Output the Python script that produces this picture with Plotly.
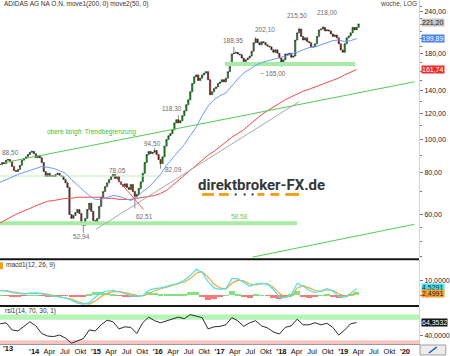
import math
import pandas as pd
import plotly.graph_objects as go

# ---------------- data ----------------
price_start = "2013-06-14"
price_end = "2019-04-02"
closes = [
    84.5, 85.6, 85.0, 87.0, 87.4, 86.0, 83.3, 81.0, 80.5, 81.6,
    84.0, 87.0, 88.0, 89.0, 90.4, 91.8, 92.5, 91.0, 88.5, 89.6,
    88.5, 85.6, 80.5, 77.8, 79.5, 77.8, 78.3, 77.8, 78.9, 79.5,
    78.3, 77.8, 76.2, 74.5, 72.2, 60.0, 58.4, 59.6, 60.8, 62.1,
    60.4, 56.5, 55.7, 58.4, 62.1, 64.8, 61.3, 57.6, 56.5, 58.4,
    63.4, 67.5, 70.2, 72.6, 74.5, 76.2, 77.8, 78.9, 76.7, 77.8,
    75.0, 73.7, 72.6, 74.0, 72.2, 71.2, 73.7, 70.2, 67.9, 68.8,
    71.7, 75.0, 79.5, 85.6, 90.4, 92.4, 91.0, 91.8, 93.0, 90.4,
    87.4, 85.0, 89.0, 95.8, 100.2, 102.9, 104.4, 107.3, 112.3, 114.8,
    112.3, 114.0, 118.0, 122.0, 127.2, 131.6, 139.0, 147.0, 154.0, 156.0,
    150.0, 152.5, 156.0, 158.0, 159.5, 151.0, 136.2, 139.0, 142.0, 143.6,
    147.0, 148.7, 151.0, 148.7, 152.5, 159.5, 170.0, 180.0, 181.0, 182.0,
    180.0, 179.0, 175.0, 171.0, 172.9, 175.0, 177.4, 183.5, 194.5, 199.6,
    194.5, 191.6, 195.8, 194.5, 191.6, 190.0, 189.0, 185.2, 182.0, 185.2,
    181.0, 175.0, 170.0, 172.9, 180.0, 179.0, 181.0, 176.0, 177.4, 198.0,
    208.0, 213.5, 203.0, 198.0, 201.0, 196.0, 194.5, 189.0, 189.0, 193.0,
    203.0, 212.3, 213.5, 216.0, 210.8, 212.3, 210.8, 206.5, 203.0, 205.0,
    201.0, 193.0, 185.0, 182.0, 193.0, 201.0, 203.5, 208.0, 216.0, 212.3,
    216.0, 221.2,
]
# marked extremes (candle index -> value)
low_marks = {42: 52.94, 68: 62.51, 81: 82.09, 142: 165.00}
high_marks = {57: 78.05, 78: 94.50, 90: 118.30, 118: 188.95, 129: 202.10,
              151: 215.50, 163: 218.00}

ind_start = "2013-06-14"
ind_end = "2019-03-21"
ma200 = [
    56.6, 58.0, 59.2, 60.4, 61.3, 62.5, 63.7, 64.7, 65.7, 66.0,
    66.5, 67.0, 67.0, 67.5, 67.5, 67.5, 67.5, 67.5, 67.0, 67.0,
    66.5, 66.5, 66.5, 67.0, 67.5, 67.9, 68.3, 69.3, 70.7, 73.2,
    75.7, 78.4, 81.0, 84.0, 86.9, 90.0, 92.4, 95.5, 98.7, 101.8,
    104.4, 107.1, 111.0, 114.8, 118.8, 122.0, 125.3, 128.5, 131.6, 134.2,
    136.9, 139.5, 141.4, 143.5, 145.8, 148.0, 150.2, 152.7, 156.1, 158.6,
    161.74,
]
ma50 = [
    74.8, 76.2, 77.8, 78.9, 80.0, 81.0, 82.2, 83.3, 82.8, 82.2,
    81.0, 79.5, 76.2, 73.2, 70.7, 68.3, 66.5, 66.5, 67.5, 68.3,
    67.9, 67.0, 66.0, 67.5, 70.2, 72.2, 75.7, 78.9, 84.0, 88.0,
    91.8, 96.8, 102.9, 109.0, 118.0, 125.9, 131.6, 135.2, 137.9, 144.8,
    151.7, 158.0, 162.6, 166.4, 169.8, 171.7, 173.9, 175.0, 177.4, 180.0,
    182.0, 185.2, 188.0, 189.0, 191.6, 194.5, 197.2, 198.2, 195.8, 197.2,
    199.89,
]
macd = [
    3.5, 3.0, 2.0, 1.3, 1.0, 1.6, 1.8, 1.2, 0.2, -0.3,
    -0.8, -1.5, -3.0, -4.8, -5.5, -4.5, -1.0, 2.0, 3.0, 3.3,
    2.5, 1.0, 0.0, -0.5, 0.0, 3.5, 4.5, 5.0, 6.0, 7.0,
    8.0, 10.0, 13.0, 17.0, 15.0, 9.0, 5.0, 4.0, 4.5, 11.0,
    11.0, 8.5, 6.0, 7.5, 8.0, 7.5, 4.0, -1.0, -1.5, 0.5,
    8.0, 6.0, 3.5, 2.0, 3.0, 4.5, 3.0, -0.5, -1.0, 1.5,
    4.5291,
]
signal = [
    3.3, 3.2, 2.5, 1.8, 1.3, 1.4, 1.6, 1.5, 0.8, 0.1,
    -0.5, -1.2, -2.3, -3.8, -5.0, -5.5, -3.5, -0.5, 1.5, 2.6,
    2.8, 2.0, 1.0, 0.2, -0.2, 1.5, 3.2, 4.3, 5.3, 6.3,
    7.3, 8.8, 11.0, 14.5, 15.5, 12.0, 7.5, 5.0, 4.3, 8.0,
    10.0, 9.5, 7.5, 7.0, 7.8, 7.8, 5.5, 1.5, -0.8, -0.5,
    5.0, 6.5, 5.0, 3.3, 2.8, 3.8, 3.5, 1.2, -0.5, 0.3,
    2.4991,
]
hist = [
    0.2, -0.2, -0.5, -0.5, -0.3, 0.2, 0.2, -0.3, -0.6, -0.4,
    -0.3, -0.3, -0.7, -1.0, -0.5, 1.0, 2.5, 2.5, 1.5, 0.7,
    -0.3, -1.0, -1.0, -0.7, 0.2, 2.0, 1.3, 0.7, 0.7, 0.7,
    0.7, 1.2, 2.0, 2.5, -0.5, -3.0, -2.5, -1.0, 0.2, 3.0,
    1.0, -1.0, -1.5, 0.5, 0.2, -0.3, -1.5, -2.5, -0.7, 1.0,
    3.0, -0.5, -1.5, -1.3, 0.2, 0.7, -0.5, -1.7, -0.5, 1.2,
    2.0,
]
rsi = [
    62, 64, 50, 48, 57, 66, 58, 43, 38, 37,
    40, 34, 24, 28, 33, 50, 48, 60, 69, 66,
    52, 56, 55, 43, 64, 75, 68, 64, 68, 72,
    75, 72, 80, 77, 74, 52, 56, 57, 60, 74,
    68, 57, 64, 68, 58, 54, 46, 42, 55, 58,
    71, 60, 60, 64, 60, 63, 55, 40, 50, 62,
    64.3532,
]

# support / resistance and trend lines: (dates, values)
upper_trend = (["2013-07-12", "2020-02-26"], [85.6, 148.8])
lower_trend = (["2017-07-15", "2020-02-26"], [44.8, 56.1])
gray_trend = (["2015-01-01", "2018-04-15"], [54.2, 129.8])
red_short = (["2015-05-04", "2015-10-09"], [76.8, 62.1])
level_78 = (["2013-06-13", "2016-01-22"], [78.05, 78.05])
level_165 = (["2017-02-01", "2019-03-13"], [168.0, 168.0])
level_58 = (["2013-06-13", "2018-04-04"], [56.5, 56.5])

price_ticks = [60, 80, 100, 120, 140, 160, 180, 200, 220, 240]
price_tick_text = ["60,00", "80,00", "100,00", "120,00", "140,00", "", "180,00", "", "", "240,00"]
price_minor = [45, 50, 55, 70, 90, 110, 130, 150, 170, 190, 210, 230, 250]
tick_dates = ["2014-01-01", "2014-04-01", "2014-07-01", "2014-10-01",
              "2015-01-01", "2015-04-01", "2015-07-01", "2015-10-01",
              "2016-01-01", "2016-04-01", "2016-07-01", "2016-10-01",
              "2017-01-01", "2017-04-01", "2017-07-01", "2017-10-01",
              "2018-01-01", "2018-04-01", "2018-07-01", "2018-10-01",
              "2019-01-01", "2019-04-01", "2019-07-01", "2019-10-01",
              "2020-01-01"]
tick_labels = ["<b>'14</b>", "Apr", "Jul", "Okt",
               "<b>'15</b>", "Apr", "Jul", "Okt",
               "<b>'16</b>", "Apr", "Jul", "Okt",
               "<b>'17</b>", "Apr", "Jul", "Okt",
               "<b>'18</b>", "Apr", "Jul", "Okt",
               "<b>'19</b>", "Apr", "Jul", "Okt",
               "<b>'20</b>"]
first_year_label = "<b>'13</b>"

# ---------------- build ----------------
pdates = pd.date_range(price_start, price_end, periods=len(closes))
opens = [closes[0]] + closes[:-1]
highs = [max(o, c) for o, c in zip(opens, closes)]
lows = [min(o, c) for o, c in zip(opens, closes)]
for i, v in high_marks.items():
    highs[i] = v
for i, v in low_marks.items():
    lows[i] = v
idates = pd.date_range(ind_start, ind_end, periods=len(ma50))

W_PLOT, H_PLOT = 423.0, 345.0
def px(x):
    return x / W_PLOT
def py(y):
    return 1 - y / H_PLOT

FONT = "Liberation Sans, Arial, sans-serif"
YELLOW = "#f0d488"

fig = go.Figure()

def line(xy, color, width, yaxis="y"):
    fig.add_trace(go.Scatter(x=xy[0], y=xy[1], mode="lines", yaxis=yaxis,
                             line=dict(color=color, width=width), hoverinfo="skip"))

line(level_165, "#a6eca6", 4)
line(level_58, "#a6eca6", 4)
line(level_78, "#b8f2b8", 1)

fig.add_trace(go.Candlestick(
    x=pdates, open=opens, high=highs, low=lows, close=closes,
    increasing=dict(line=dict(color="#151515", width=0.5), fillcolor="#1fa81f"),
    decreasing=dict(line=dict(color="#151515", width=0.5), fillcolor="#c01818"),
    whiskerwidth=0, hoverinfo="skip"))

line((idates, ma200), "#f24a4a", 1)
line((idates, ma50), "#6f97f5", 1)
line(upper_trend, "#52cc52", 1)
line(lower_trend, "#52cc52", 1)
line(gray_trend, "#a8a8a8", 1)
line(red_short, "#f25a5a", 1)

# MACD panel
fig.add_trace(go.Bar(x=idates, y=hist, yaxis="y2",
                     marker=dict(color=["#7fe37f" if v >= 0 else "#f47a7a" for v in hist],
                                 line=dict(width=0)),
                     width=34.7 * 24 * 3600 * 1000, hoverinfo="skip"))
fig.add_trace(go.Scatter(x=idates, y=signal, yaxis="y2", mode="lines",
                         line=dict(color="#f5a53c", width=1.2), hoverinfo="skip"))
fig.add_trace(go.Scatter(x=idates, y=macd, yaxis="y2", mode="lines",
                         line=dict(color="#48e4f0", width=1.2), hoverinfo="skip"))

# RSI panel
fig.add_trace(go.Scatter(x=idates, y=rsi, yaxis="y3", mode="lines",
                         line=dict(color="#2a2a2a", width=1), hoverinfo="skip"))

axis_common = dict(showgrid=False, zeroline=False, side="right", anchor="x",
                   showline=True, linecolor=YELLOW, linewidth=1,
                   ticks="outside", ticklen=3, tickcolor="#777",
                   tickfont=dict(family=FONT, size=7, color="#222"))

fig.update_layout(
    width=450, height=356,
    margin=dict(l=0, r=27, t=0, b=11),
    paper_bgcolor="white", plot_bgcolor="white",
    showlegend=False, bargap=0, boxgap=0.05,
    xaxis=dict(type="date", anchor="y3", domain=[0, 1],
               range=["2013-06-13", "2020-03-24"],
               tickvals=tick_dates, ticktext=tick_labels,
               tickfont=dict(family=FONT, size=7.5, color="#111"),
               ticks="", showgrid=False, zeroline=False,
               showline=True, linecolor="#9a9a9a",
               rangeslider=dict(visible=False)),
    yaxis=dict(type="log", domain=[1 - 259 / H_PLOT, 1],
               range=[math.log10(44.45), math.log10(260.5)],
               tickvals=price_ticks, ticktext=price_tick_text,
               minor=dict(tickvals=price_minor, ticklen=2, tickcolor="#777", ticks="outside"),
               **axis_common),
    yaxis2=dict(domain=[1 - 306 / H_PLOT, 1 - 261 / H_PLOT], range=[-6.13, 22.9],
                tickvals=[0, 10], ticktext=["", "10,0000"], **axis_common),
    yaxis3=dict(domain=[0, 1 - 308 / H_PLOT], range=[22.5, 94.6],
                tickvals=[40], ticktext=["40,0000"], **axis_common),
)

shapes = []
# RSI bands
shapes.append(dict(type="rect", xref="paper", yref="y3", x0=0, x1=1, y0=70, y1=80,
                   fillcolor="#b4f4b4", line=dict(width=0), layer="below"))
shapes.append(dict(type="rect", xref="paper", yref="y3", x0=0, x1=1, y0=22.5, y1=30,
                   fillcolor="#f6c2c2", line=dict(width=0), layer="below"))
# panel separators
for yy in (260, 307):
    shapes.append(dict(type="line", xref="paper", yref="paper", x0=0, x1=1,
                       y0=py(yy), y1=py(yy), line=dict(color="#151515", width=2)))
# macd label marker
shapes.append(dict(type="rect", xref="paper", yref="paper", x0=px(0), x1=px(3),
                   y0=py(270), y1=py(263), fillcolor="#f0a020", line=dict(width=0)))
# logo underline
for a, b in [(204, 216), (221, 231), (260, 267), (273, 282), (288, 302)]:
    shapes.append(dict(type="line", xref="paper", yref="paper", x0=px(a), x1=px(b),
                       y0=py(195), y1=py(195), line=dict(color="#f0a01e", width=3)))
for a in (238, 247, 255):
    shapes.append(dict(type="rect", xref="paper", yref="paper", x0=px(a - 1), x1=px(a + 1),
                       y0=py(196), y1=py(194), fillcolor="#333", line=dict(width=0)))
# corner button
shapes.append(dict(type="rect", xref="paper", yref="paper", x0=px(424), x1=px(450),
                   y0=py(356), y1=py(346), fillcolor="#ececec", line=dict(color="#a0a0a0", width=1)))
shapes.append(dict(type="line", xref="paper", yref="paper", x0=px(433), x1=px(441),
                   y0=py(354), y1=py(348), line=dict(color="#2050d0", width=1.5)))
fig.update_layout(shapes=shapes)

ann = []
def label(text, x, y, color="#6e6e6e", size=6.5, anchor="center", bg=None, fam=FONT):
    d = dict(text=text, x=px(x), y=py(y), xref="paper", yref="paper",
             xanchor=anchor, yanchor="middle", showarrow=False,
             font=dict(family=fam, size=size, color=color))
    if bg:
        d.update(bgcolor=bg, borderpad=0)
    ann.append(d)

label("ADIDAS AG NA O.N. move1(200, 0) move2(50, 0)", 2, 4, color="#333", anchor="left")
label("woche, LOG", 402, 4, color="#444")
label("88,50", 0, 153, anchor="left")
label("obere langfr. Trendbegrenzung", 92.5, 132, color="#3cbf3c")
label("78,05", 118.5, 171)
label("52,94", 82, 237)
label("62,51", 145.5, 217)
label("94,50", 153.5, 144)
label("82,09", 175, 170)
label("118,30", 173.5, 109)
label("188,95", 235, 41)
label("202,10", 267.5, 30)
label("~ 165,00", 276, 74)
label("215,50", 299.5, 16)
label("218,00", 330, 13)
label("58,58", 241.5, 217, color="#5ccf5c")
label("macd1(12, 26, 9)", 4, 266, color="#333", anchor="left")
label("rsi1(14, 70, 30, 1)", 3, 312, color="#333", anchor="left")
label(first_year_label, 1, 350, color="#111", size=7.5, anchor="left")
label("<b>direktbroker-FX.de</b>", 263.5, 186, color="#33383c", size=15,
      fam="Roboto, Lato, sans-serif")
# value boxes on the right axis
label("221,20", 425, 23, color="#222", size=7, anchor="left", bg="#c6c6c6")
label("199,89", 425, 38.7, color="white", size=7, anchor="left", bg="#4d80f0")
label("161,74", 425, 69.5, color="white", size=7, anchor="left", bg="#ee2c2c")
label("4,5291", 425, 288.5, color="#124", size=7, anchor="left", bg="#44e4f2")
label("2,4991", 425, 294, color="#222", size=7, anchor="left", bg="#f5a32e")
label("64,3532", 425, 323.5, color="white", size=7, anchor="left", bg="#151515")
fig.update_layout(annotations=ann)

fig.write_html("out.html", config={"displayModeBar": False},
               post_script="document.body.style.margin='0px';")
